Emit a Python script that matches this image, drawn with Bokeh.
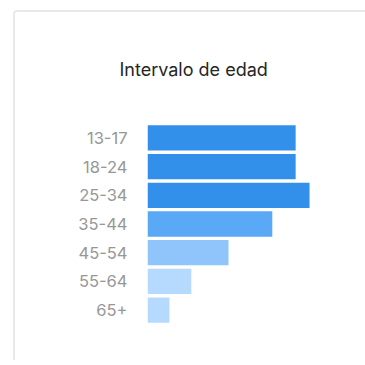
from bokeh.plotting import figure
from bokeh.models import FactorRange, ColumnDataSource, Title
from bokeh.embed import file_html
from bokeh.resources import INLINE

# Data
age_groups = ["13-17", "18-24", "25-34", "35-44", "45-54", "55-64", "65+"]
shares = [20.3, 20.3, 22.2, 17.1, 11.1, 6.0, 3.0]
bar_colors = ["#3390ea", "#3390ea", "#3390ea", "#5aa9f7", "#8fc5fa", "#b6dafd", "#b6dafd"]
title_text = "Intervalo de edad"

src = ColumnDataSource(dict(age=age_groups, share=shares, color=bar_colors))

p = figure(
    width=352, height=350,
    y_range=FactorRange(factors=list(reversed(age_groups)), range_padding=0),
    x_range=(0, 28.5),
    output_backend="svg", toolbar_location=None,
    min_border_left=132, min_border_right=12, min_border_top=110, min_border_bottom=38,
    margin=(10, 0, 0, 13),
)
p.styles = {
    "border-left": "2px solid #e9e9e9",
    "border-top": "2px solid #e9e9e9",
    "border-top-left-radius": "4px",
}

p.hbar(y="age", right="share", left=0, height=0.88, color="color", line_color=None, source=src)

p.xaxis.visible = False
p.xgrid.visible = False
p.ygrid.visible = False
p.outline_line_color = None
p.background_fill_color = "white"
p.border_fill_color = "white"

ax = p.yaxis[0]
ax.axis_line_color = None
ax.major_tick_line_color = None
ax.minor_tick_line_color = None
ax.major_tick_out = 0
ax.major_tick_in = 0
ax.major_label_standoff = 20
ax.major_label_text_font = "Inter"
ax.major_label_text_font_size = "16.5px"
ax.major_label_text_color = "#979797"

t = Title(text=title_text, align="left", offset=-28, standoff=88,
          text_font="Inter", text_font_size="18px", text_font_style="normal",
          text_color="#262626")
p.add_layout(t, "above")

open("out.html", "w").write(file_html(p, INLINE))
